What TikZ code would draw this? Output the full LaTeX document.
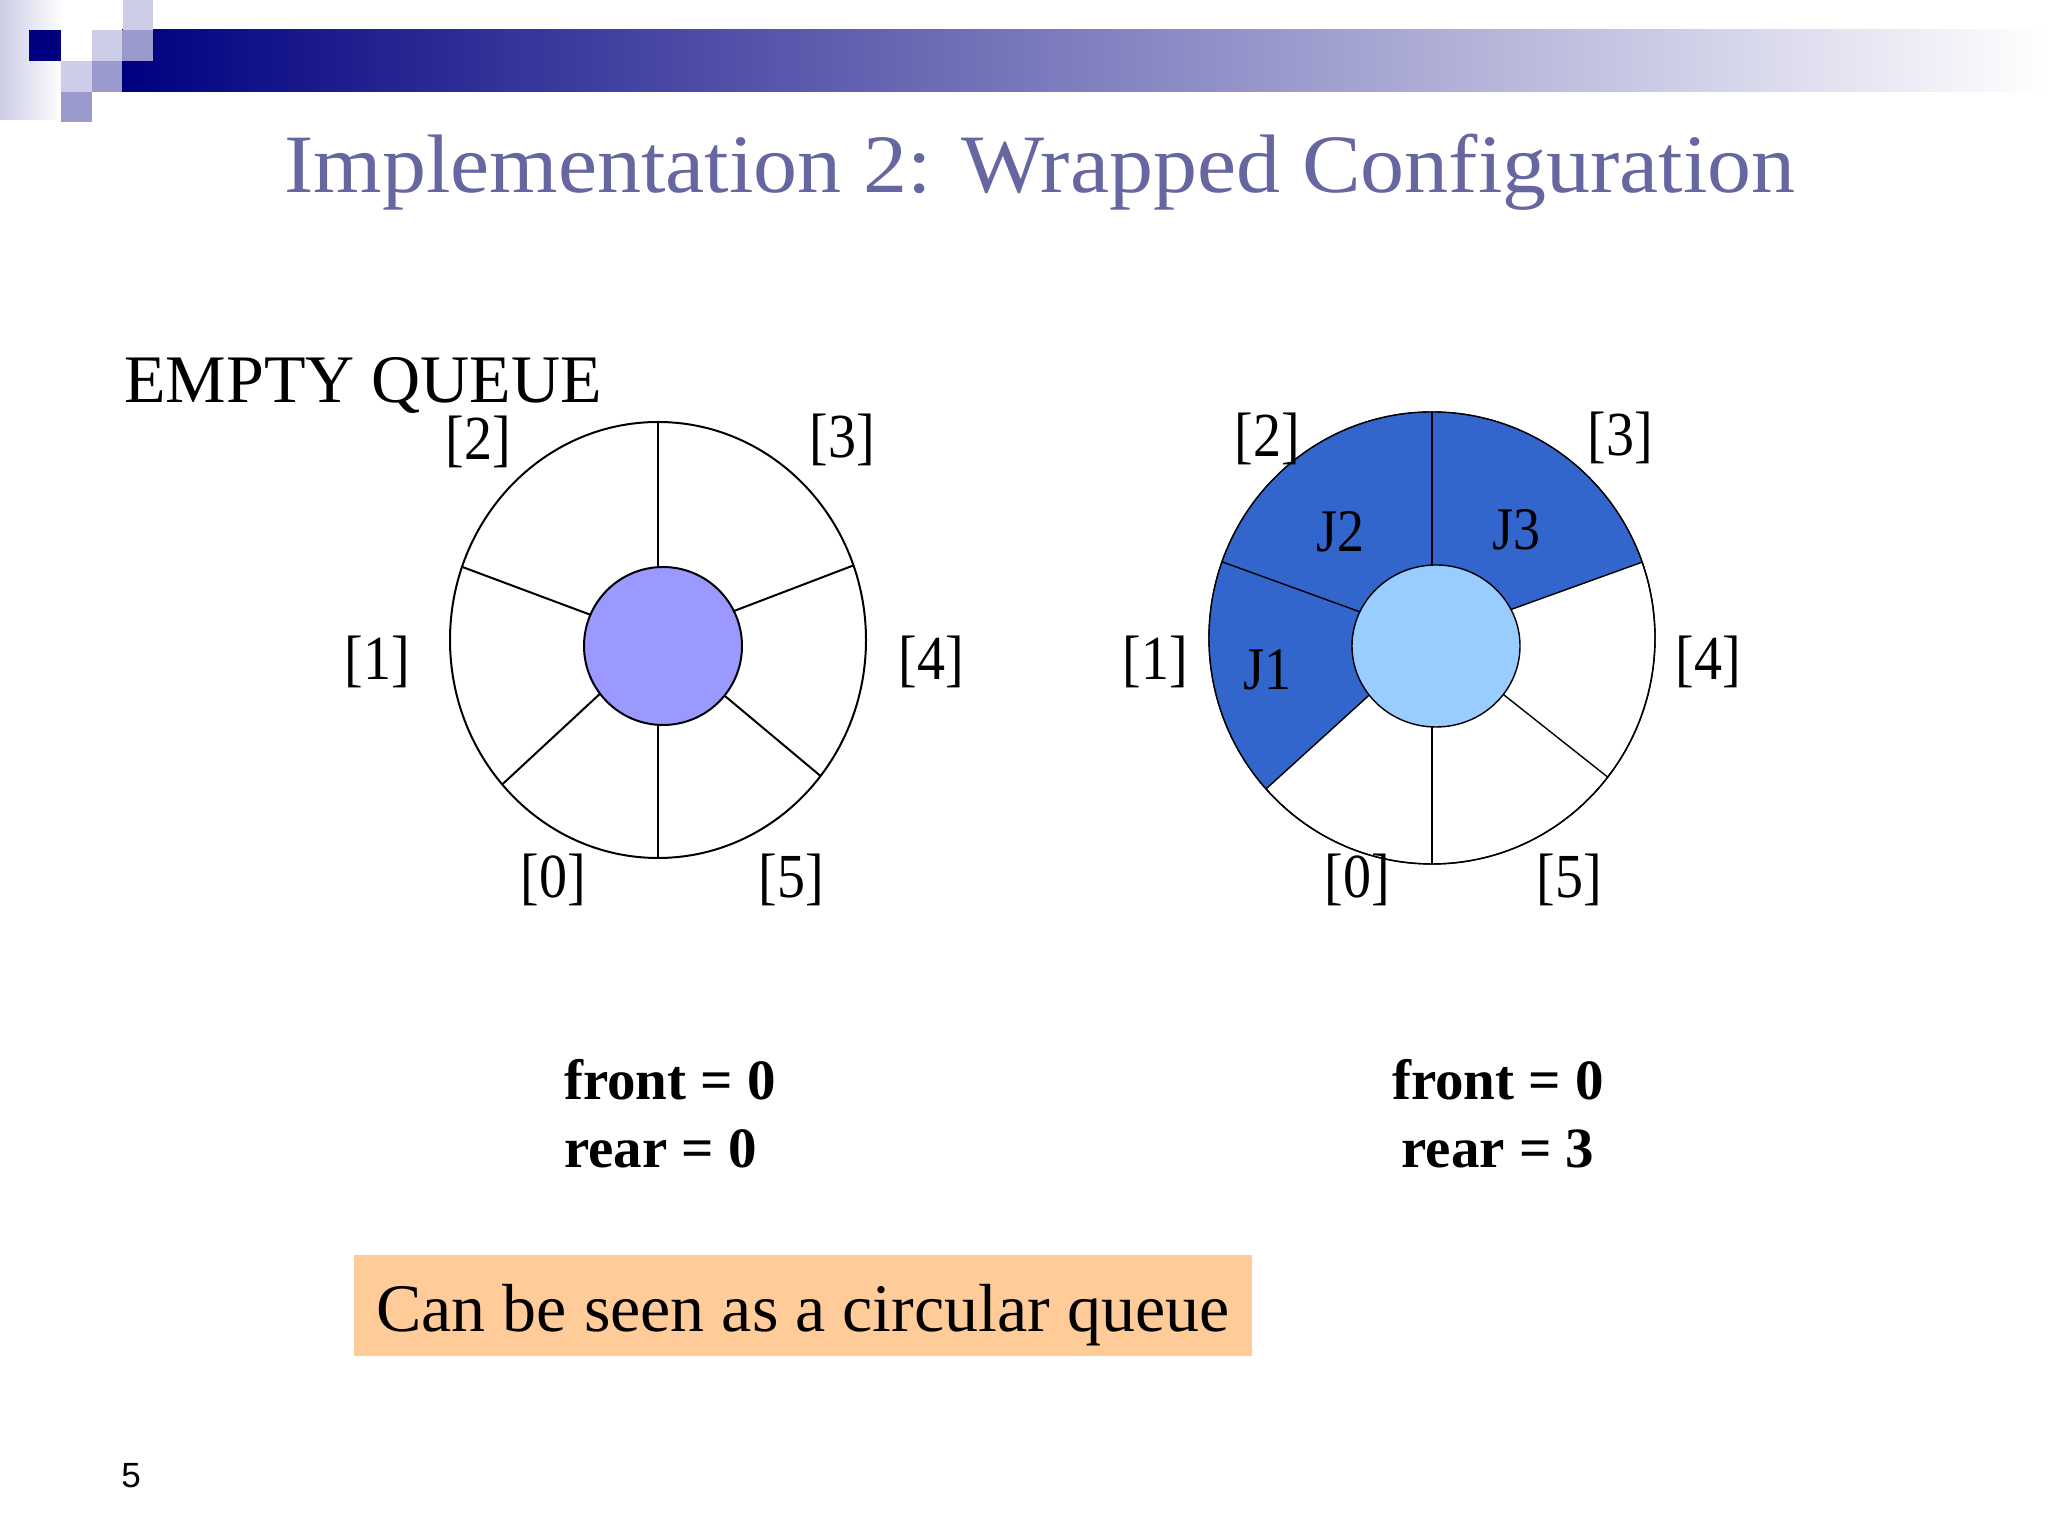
\documentclass[tikz,border=0pt]{standalone}
\usepackage{fontspec}
\setmainfont{Liberation Serif}
\newfontfamily\slidesans{Liberation Sans}
\usetikzlibrary{calc}

\definecolor{navyq}{RGB}{0,0,128}
\definecolor{lav}{RGB}{204,204,230}
\definecolor{lavmid}{RGB}{153,153,204}
\definecolor{titleblue}{RGB}{102,102,160}
\definecolor{ringfill}{RGB}{153,153,255}
\definecolor{jobblue}{RGB}{51,102,204}
\definecolor{hubblue}{RGB}{153,204,255}
\definecolor{notefill}{RGB}{255,204,153}

\begin{document}
\begin{tikzpicture}[x=1pt,y=1pt,
  idx/.style={inner sep=0pt,font=\fontsize{56}{56}\selectfont,yscale=1.12},
  job/.style={inner sep=0pt,font=\fontsize{54}{54}\selectfont,yscale=1.12},
  tally/.style={inner sep=0pt,font=\fontsize{57}{57}\selectfont\bfseries}]
\useasboundingbox (0,0) rectangle (2048,1536);
\fill[white] (0,0) rectangle (2048,1536);

% slide banner
\shade[left color=lav,right color=white] (0,1416) rectangle (62,1536);
\shade[left color=navyq,right color=white] (122,1444) rectangle (2048,1506);
\fill[lav] (123,1506) rectangle (153,1536);
\fill[navyq] (29,1475) rectangle (61,1506);
\fill[lav] (92,1475) rectangle (122,1506);
\fill[lavmid] (122,1475) rectangle (153,1506);
\fill[lav] (61,1444) rectangle (92,1475);
\fill[lavmid] (92,1444) rectangle (122,1475);
\fill[lavmid] (61,1414) rectangle (92,1444);

\node[anchor=base,font=\fontsize{83}{83}\selectfont,text=titleblue,xscale=1.06] (title) at (1040,1343) {Implementation 2: Wrapped Configuration};
\node[anchor=base west,inner sep=0pt,font=\fontsize{68}{68}\selectfont] (empty) at (124,1133) {EMPTY QUEUE};

% empty queue
\coordinate (L) at (658,896);
\draw[line width=2pt,fill=white] (L) ellipse [x radius=208,y radius=218];
\foreach \a in {90,20,-38.6,-90,-138.5,160.4}
  \draw[line width=2pt] (L) -- ($(L)+(\a:208 and 218)$);
\node[circle,draw,line width=2pt,fill=ringfill,minimum size=158pt,inner sep=0pt] (Lhub) at (663,890) {};
\node[idx] (L0) at (553,656) {[0]};
\node[idx] (L1) at (377,874) {[1]};
\node[idx] (L2) at (478,1094) {[2]};
\node[idx] (L3) at (842,1096) {[3]};
\node[idx] (L4) at (931,874) {[4]};
\node[idx] (L5) at (791,656) {[5]};

% three jobs queued
\coordinate (R) at (1432,898);
\draw[line width=1.4pt,fill=white] (R) ellipse [x radius=223,y radius=226];
\fill[jobblue] (R) -- ($(R)+(19.6:223 and 226)$) arc[start angle=19.6,end angle=221.9,x radius=223,y radius=226] -- cycle;
\draw[line width=1.4pt] (R) ellipse [x radius=223,y radius=226];
\foreach \a in {90,19.6,-38,-90,-138.1,160.3}
  \draw[line width=1.4pt] (R) -- ($(R)+(\a:223 and 226)$);
\draw[line width=1.4pt,fill=hubblue] (1436,890) ellipse [x radius=84,y radius=81];
\node[job] (J1) at (1267,866) {J1};
\node[job] (J2) at (1340,1004) {J2};
\node[job] (J3) at (1516,1006) {J3};
\node[idx] (R0) at (1357,656) {[0]};
\node[idx] (R1) at (1155,874) {[1]};
\node[idx] (R2) at (1267,1097) {[2]};
\node[idx] (R3) at (1620,1098) {[3]};
\node[idx] (R4) at (1708,874) {[4]};
\node[idx] (R5) at (1569,656) {[5]};

% pointers
\node[tally,anchor=base west] (Lfront) at (564,436) {front = 0};
\node[tally,anchor=base west] (Lrear) at (564,368) {rear = 0};
\node[tally,anchor=base] (Rfront) at (1498,436) {front = 0};
\node[tally,anchor=base] (Rrear) at (1498,368) {rear = 3};

\node[fill=notefill,minimum width=898pt,minimum height=101pt,inner sep=0pt,text height=60pt,text depth=8pt,font=\fontsize{68}{68}\selectfont] (note) at (803,230) {Can be seen as a circular queue};
\node[font=\slidesans\fontsize{35}{35}\selectfont] (page) at (131,60) {5};
\end{tikzpicture}
\end{document}
